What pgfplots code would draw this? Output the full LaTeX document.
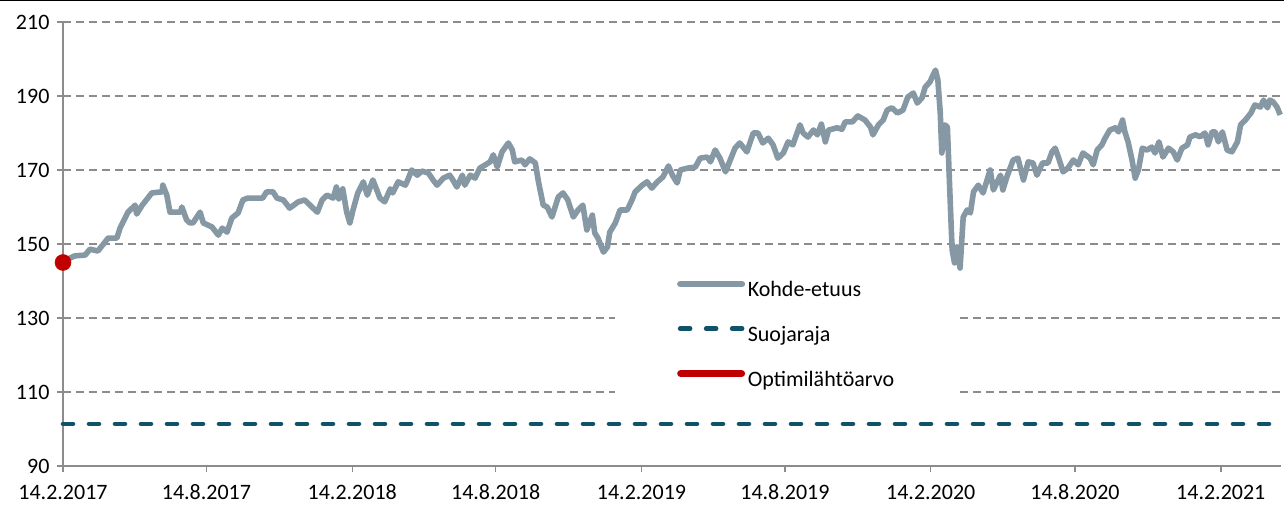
\documentclass[border=0pt]{standalone}
\usepackage{pgfplots}
\pgfplotsset{compat=1.18}
\usepackage{fontspec}
\setmainfont{Carlito}
\definecolor{kohde}{RGB}{133,152,164}
\definecolor{suoja}{RGB}{16,82,104}
\definecolor{optim}{RGB}{192,0,0}
\definecolor{gridc}{RGB}{140,140,140}
\begin{document}
\fontsize{16.5}{19}\selectfont
\begin{tikzpicture}
\begin{axis}[
  scale only axis, width=913.5pt, height=333pt,
  xmin=0, xmax=1537, ymin=90, ymax=210,
  ytick={90,110,130,150,170,190,210},
  xtick={0,181,365,546,730,911,1095,1277,1461},
  xticklabels={14.2.2017,14.8.2017,14.2.2018,14.8.2018,14.2.2019,14.8.2019,14.2.2020,14.8.2020,14.2.2021},
  axis x line*=bottom, axis y line*=left,
  axis line style={gridc, line width=1.1pt},
  tick style={gridc, line width=1.1pt},
  tick align=outside, major tick length=4.5pt,
  ymajorgrids, grid style={gridc, line width=1.1pt, dash pattern=on 6pt off 3.75pt},
  clip=false,
  tick label style={font=\fontsize{16.5}{19}\selectfont, text=black},
  xticklabel style={yshift=-4pt},
  /pgf/number format/assume math mode=true,
  legend cell align=left,
  legend style={at={(0.504,0.418)}, anchor=north west, draw=none, fill=none,
    inner sep=0pt, row sep=17.5pt, font=\fontsize{16.5}{19}\selectfont,
    nodes={inner sep=0pt, text height=12pt, text depth=4pt},
    /tikz/every odd column/.append style={column sep=2pt}},
]
\fill[white] (axis cs:697,107.6) rectangle (axis cs:1130,145);
\addplot[kohde, line width=4.2pt, line join=round,
  legend image code/.code={\draw[kohde, line width=4.5pt, line cap=round] (2.25pt,0.33em) -- (48.75pt,0.33em);}]
table {
x y
0 145.0
3 145.6
15 146.8
28 147.0
34 148.6
44 148.1
57 151.6
68 151.6
72 154.3
82 158.6
91 160.5
93 158.1
100 160.5
107 162.4
112 163.8
125 164.1
126 165.9
131 163.2
135 158.6
148 158.6
150 160.0
156 156.5
160 155.7
164 155.7
173 158.6
177 155.7
188 154.6
196 152.4
201 154.3
207 153.2
213 157.0
221 158.4
227 161.9
233 162.4
242 162.4
252 162.4
257 164.1
265 164.1
270 162.4
278 161.9
286 159.7
297 161.4
305 161.9
314 160.0
321 158.6
327 161.9
333 163.2
341 162.4
345 165.4
348 162.2
353 164.9
358 158.6
362 155.7
366 159.2
372 163.8
379 166.8
384 163.2
391 167.3
400 162.4
406 161.4
413 164.9
416 163.8
423 166.8
432 165.9
435 167.3
440 170.0
447 168.6
453 169.7
461 169.2
467 167.3
472 165.9
480 167.8
488 168.6
492 167.3
497 165.4
504 168.6
507 165.9
514 168.6
520 167.8
526 170.5
533 171.4
539 172.2
543 174.1
548 170.8
554 174.9
562 177.3
567 175.4
570 172.2
579 172.7
583 171.4
589 173.0
596 171.9
600 166.8
606 160.5
611 160.0
617 157.3
625 162.7
631 163.8
637 161.9
644 157.3
650 159.2
656 160.5
661 153.8
668 157.8
671 153.0
675 151.6
682 147.8
687 149.2
690 153.2
697 155.7
703 159.2
712 159.2
718 161.9
722 164.1
731 165.9
737 166.8
743 165.1
750 166.8
757 168.1
764 171.1
769 168.6
775 166.5
779 170.0
788 170.5
798 170.8
804 173.2
813 173.5
817 172.2
823 175.4
829 173.2
836 169.5
842 172.7
848 175.9
854 177.3
863 174.9
871 180.0
877 180.0
883 177.3
890 178.6
896 176.8
902 173.2
909 174.6
915 177.6
921 176.8
930 182.2
934 180.0
940 178.9
947 180.8
952 179.5
957 182.4
962 177.6
966 180.8
977 181.4
983 181.0
987 183.0
996 183.0
1003 184.6
1012 183.5
1019 181.6
1022 179.5
1029 182.2
1035 183.5
1040 186.2
1046 186.8
1053 185.4
1060 186.2
1066 189.7
1073 190.8
1078 188.1
1084 189.5
1088 192.4
1094 193.8
1098 195.7
1101 197.0
1104 194.3
1107 185.4
1109 174.6
1113 182.2
1116 181.6
1119 164.6
1122 148.4
1125 144.9
1128 149.2
1132 143.5
1136 157.3
1141 159.2
1145 158.4
1149 164.1
1155 165.9
1161 163.8
1170 170.0
1174 164.6
1183 168.6
1186 164.6
1191 168.1
1199 172.7
1205 173.2
1212 167.3
1218 172.2
1224 171.9
1229 168.6
1236 171.9
1243 171.9
1248 174.9
1252 175.9
1256 173.5
1262 169.5
1268 170.5
1275 172.7
1281 171.4
1287 174.6
1296 173.2
1300 171.4
1305 175.4
1311 176.8
1315 178.6
1321 180.8
1328 181.4
1332 180.3
1337 183.5
1340 180.3
1344 177.6
1349 172.7
1353 167.8
1357 170.0
1362 175.9
1368 175.4
1374 176.2
1378 174.6
1383 177.6
1388 173.5
1395 175.9
1401 174.9
1406 172.7
1412 175.9
1419 176.8
1422 178.9
1429 179.5
1435 179.0
1441 180.0
1445 176.8
1450 180.3
1454 180.3
1458 177.6
1463 180.3
1469 175.4
1475 174.9
1482 177.6
1486 182.2
1492 183.5
1499 185.4
1504 187.6
1511 187.0
1515 188.9
1520 186.8
1523 188.9
1527 188.4
1532 187.0
1536 184.9
};
\addlegendentry{Kohde-etuus}
\addplot[suoja, line width=3.4pt, line cap=round, dash pattern=on 7.5pt off 12pt,
  legend image code/.code={\draw[suoja, line width=3.4pt, line cap=round, dash pattern=on 7.5pt off 12pt] (2.25pt,0.33em) -- (48.75pt,0.33em);}]
table {
x y
0 101.4
1537 101.4
};
\addlegendentry{Suojaraja}
\addplot[only marks, mark=*, mark size=6pt, color=optim,
  legend image code/.code={\draw[optim, line width=5.5pt, line cap=round] (2.75pt,0.33em) -- (48.25pt,0.33em);}]
table {
x y
0 145.0
};
\addlegendentry{Optimilähtöarvo}
\end{axis}
\draw[black, line width=1.2pt] (-47.25pt,349.5pt) -- (915.75pt,349.5pt);
\pgfresetboundingbox
\path (-47.25pt,-30pt) rectangle (915.75pt,349.5pt);
\end{tikzpicture}
\end{document}
